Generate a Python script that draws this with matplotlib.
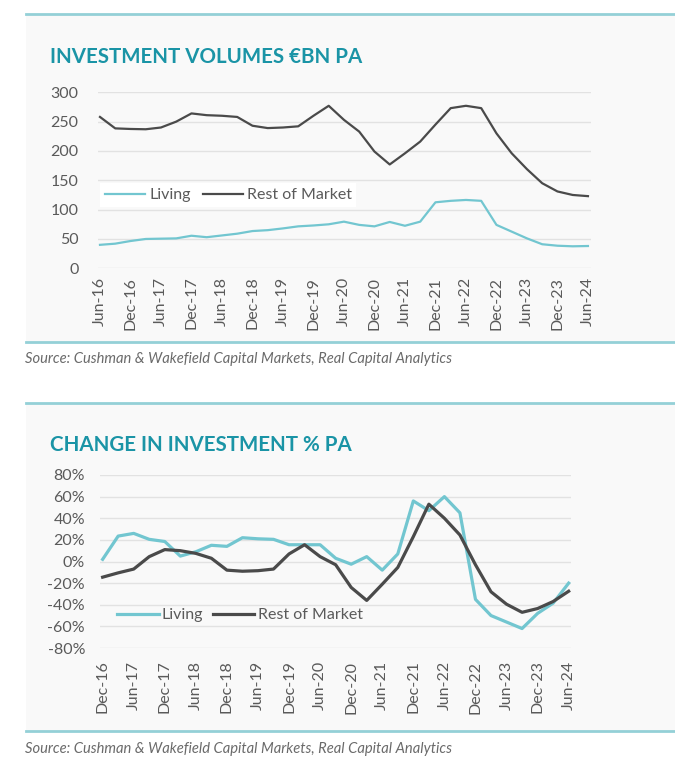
import matplotlib
matplotlib.use("Agg")
import matplotlib.pyplot as plt
from matplotlib.patches import Rectangle
from matplotlib.lines import Line2D

# ---------------- data ----------------
top_labels = ["Jun-16", "Dec-16", "Jun-17", "Dec-17", "Jun-18", "Dec-18", "Jun-19", "Dec-19",
              "Jun-20", "Dec-20", "Jun-21", "Dec-21", "Jun-22", "Dec-22", "Jun-23", "Dec-23", "Jun-24"]
top_living = [40, 42, 46.5, 50, 50.5, 51, 55.5, 53, 56, 59, 63.5, 65, 68, 71.5, 73, 75, 79.5,
              74, 71.5, 79, 72.5, 79.5, 112.5, 115, 116.5, 115, 74, 62.5, 51, 41, 38.5, 37.5, 38]
top_rest = [258, 238.5, 237.5, 237, 240, 250, 264, 261, 260, 258, 243, 239, 240, 242, 260, 277,
            253, 233, 199, 177, 196, 216, 245, 273, 277, 273, 230, 196, 169, 145, 131, 125, 123]

bot_labels = ["Dec-16", "Jun-17", "Dec-17", "Jun-18", "Dec-18", "Jun-19", "Dec-19", "Jun-20",
              "Dec-20", "Jun-21", "Dec-21", "Jun-22", "Dec-22", "Jun-23", "Dec-23", "Jun-24"]
bot_living = [2, 23.5, 26, 20.5, 18.5, 5, 9, 15, 14, 22, 21, 20.5, 15.5, 15.5, 15.5, 3, -2.5,
              4.5, -8, 7, 56, 47, 60, 45, -35, -50, -56, -62, -48, -38.5, -20]
bot_rest = [-14.5, -10.5, -7, 4.5, 11, 10, 7.5, 3, -8, -9, -8.5, -7, 7, 15.5, 4.5, -3, -24,
            -36, -21, -5.5, 23, 53, 40, 24.5, -3, -28, -39.5, -47, -43.5, -37, -27.5]

series_names = ["Living", "Rest of Market"]
title_top = "INVESTMENT VOLUMES €BN PA"
title_bot = "CHANGE IN INVESTMENT % PA"
source = "Source: Cushman & Wakefield Capital Markets, Real Capital Analytics"

# ---------------- style ----------------
plt.rcParams['font.family'] = ['Lato', 'DejaVu Sans']
TEAL = "#1a94a6"
LIVING = "#72c6d0"
REST = "#4a4a4a"
GRID = "#e2e2e2"
TICK = "#5a5a5a"
PANEL = "#f9f9f9"
FRAME = "#94d0d7"
FS = 11.5

W, H = 675, 769
fig = plt.figure(figsize=(W / 100, H / 100), dpi=100)
fig.patch.set_facecolor("white")

def fx(px):
    return px / W

def fy(py):
    return 1 - py / H

# panels
for top, bot in [(14, 342), (403, 731)]:
    fig.patches.append(Rectangle((fx(26), fy(bot)), fx(W - 26), (bot - top) / H,
                                 transform=fig.transFigure, facecolor=PANEL, edgecolor="none",
                                 zorder=-10))
    for yy in (top, bot):
        fig.lines.append(Line2D([fx(26), 1], [fy(yy), fy(yy)], transform=fig.transFigure,
                                color=FRAME, lw=2, zorder=-9))

# titles and sources
fig.text(fx(50), fy(57), title_top, fontsize=14.8, fontweight="bold", color=TEAL, va="center")
fig.text(fx(50), fy(445), title_bot, fontsize=14.8, fontweight="bold", color=TEAL, va="center")
fig.text(fx(25), fy(359), source, fontsize=10.6, style="italic", color="#6a6a6a", va="center")
fig.text(fx(25), fy(749), source, fontsize=10.6, style="italic", color="#6a6a6a", va="center")

def style_ax(ax):
    ax.set_facecolor("none")
    ax.set_zorder(2)
    for s in ax.spines.values():
        s.set_visible(False)
    ax.tick_params(length=0, labelsize=FS, labelcolor=TICK)
    ax.grid(axis="y", color=GRID, lw=1)
    ax.set_axisbelow(True)

# ---------------- top chart ----------------
ax1 = fig.add_axes([fx(98), fy(268.3), fx(591 - 98), 176 / H])
style_ax(ax1)
x1 = list(range(len(top_living)))
ax1.plot(x1, top_living, color=LIVING, lw=1.6, label=series_names[0])
ax1.plot(x1, top_rest, color=REST, lw=1.6, label=series_names[1])
ax1.set_ylim(0, 300)
ax1.set_yticks([0, 50, 100, 150, 200, 250, 300])
ax1.set_xlim(-0.13, 32.2)
ax1.set_xticks(x1[::2])
ax1.set_xticklabels(top_labels, rotation=90)
ax1.tick_params(axis="y", pad=14)
ax1.tick_params(axis="x", pad=6)
leg1 = ax1.legend(loc="center left", bbox_to_anchor=(0.005, 0.416), ncol=2, frameon=True,
                  fancybox=False, framealpha=1, edgecolor="none", facecolor="white",
                  fontsize=FS, handlelength=2.5, handletextpad=0.25, columnspacing=0.75,
                  borderpad=0.3, borderaxespad=0)
for t in leg1.get_texts():
    t.set_color(TICK)

# ---------------- bottom chart ----------------
ax2 = fig.add_axes([fx(100.3), fy(648), fx(571 - 100.3), 173 / H])
style_ax(ax2)
x2 = list(range(len(bot_living)))
ax2.plot(x2, bot_living, color=LIVING, lw=2.3, label=series_names[0])
ax2.plot(x2, bot_rest, color=REST, lw=2.3, label=series_names[1])
ax2.set_ylim(-80, 80)
ax2.set_yticks(range(-80, 81, 20))
ax2.set_yticklabels([f"{v}%" for v in range(-80, 81, 20)])
ax2.set_xlim(-0.15, 30.15)
ax2.set_xticks(x2[::2])
ax2.set_xticklabels(bot_labels, rotation=90)
ax2.tick_params(axis="y", pad=11)
ax2.tick_params(axis="x", pad=9)
leg2 = ax2.legend(loc="center left", bbox_to_anchor=(0.022, 0.19), ncol=2, frameon=False,
                  fontsize=FS, handlelength=2.6, handletextpad=0.2, columnspacing=0.6,
                  borderaxespad=0)
for t in leg2.get_texts():
    t.set_color(TICK)

fig.savefig("out.png", dpi=100, facecolor="white")
